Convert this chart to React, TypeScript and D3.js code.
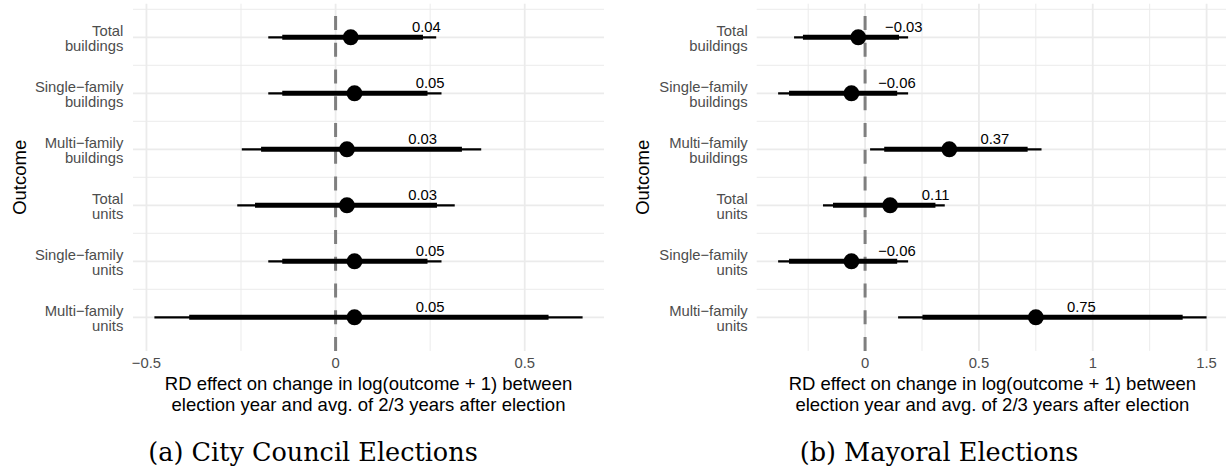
import React from "react";
import * as d3 from "d3";

// Outcomes, top to bottom
const outcomes = [
  "Total buildings",
  "Single−family buildings",
  "Multi−family buildings",
  "Total units",
  "Single−family units",
  "Multi−family units",
];

// City council elections: point estimate, 90% and 95% intervals
const councilEstimate = [0.04, 0.05, 0.03, 0.03, 0.05, 0.05];
const councilLo90 = [-0.141, -0.141, -0.197, -0.213, -0.141, -0.387];
const councilHi90 = [0.231, 0.243, 0.334, 0.268, 0.243, 0.563];
const councilLo95 = [-0.178, -0.178, -0.248, -0.26, -0.178, -0.479];
const councilHi95 = [0.266, 0.28, 0.385, 0.315, 0.28, 0.653];

// Mayoral elections
const mayorEstimate = [-0.03, -0.06, 0.37, 0.11, -0.06, 0.75];
const mayorLo90 = [-0.273, -0.334, 0.084, -0.141, -0.334, 0.252];
const mayorHi90 = [0.149, 0.141, 0.714, 0.309, 0.141, 1.395];
const mayorLo95 = [-0.312, -0.382, 0.022, -0.185, -0.382, 0.145];
const mayorHi95 = [0.189, 0.189, 0.775, 0.35, 0.189, 1.5];

const councilTicks = [-0.5, 0, 0.5];
const councilMinor = [-0.25, 0.25];
const mayorTicks = [0, 0.5, 1, 1.5];
const mayorMinor = [-0.25, 0.25, 0.75, 1.25];

const xTitle = [
  "RD effect on change in log(outcome + 1) between",
  "election year and avg. of 2/3 years after election",
];
const yTitle = "Outcome";
const captions = ["(a) City Council Elections", "(b) Mayoral Elections"];

const SANS = "'Liberation Sans', Arial, Helvetica, sans-serif";
const SERIF = "'DejaVu Serif', 'Liberation Serif', serif";
const GRID = "#EBEBEB";
const AXIS_TEXT = "#4D4D4D";

const minus = (s: string) => s.replace(/-/g, "−");
const fmtTick = (v: number) => minus(d3.format("")(v));
const fmtLabel = (v: number) => minus(v.toFixed(2));

type PanelProps = {
  left: number;
  right: number;
  yLabelX: number;
  yTitleX: number;
  captionX: number;
  caption: string;
  est: number[];
  lo90: number[];
  hi90: number[];
  lo95: number[];
  hi95: number[];
  ticks: number[];
  minor: number[];
};

const TOP = 3.7;
const BOTTOM = 350.9;

function Panel(p: PanelProps) {
  const lo = d3.min(p.lo95) as number;
  const hi = d3.max(p.hi95) as number;
  const pad = (hi - lo) * 0.05;
  const x = d3.scaleLinear().domain([lo - pad, hi + pad]).range([p.left, p.right]);
  const y = d3.scalePoint<string>().domain(outcomes).range([TOP, BOTTOM]).padding(0.6);
  const step = y.step();
  const cx = (p.left + p.right) / 2;
  const dash = d3.line()([
    [x(0), BOTTOM],
    [x(0), TOP],
  ]) as string;

  return (
    <g>
      {/* grid */}
      {outcomes.map((o) => (
        <line key={"hm" + o} x1={p.left} x2={p.right} y1={(y(o) as number) - step / 2} y2={(y(o) as number) - step / 2} stroke={GRID} strokeWidth={1} />
      ))}
      {p.minor.map((t) => (
        <line key={"vm" + t} x1={x(t)} x2={x(t)} y1={TOP} y2={BOTTOM} stroke={GRID} strokeWidth={1} />
      ))}
      {outcomes.map((o) => (
        <line key={"h" + o} x1={p.left} x2={p.right} y1={y(o)} y2={y(o)} stroke={GRID} strokeWidth={1.8} />
      ))}
      {p.ticks.map((t) => (
        <line key={"v" + t} x1={x(t)} x2={x(t)} y1={TOP} y2={BOTTOM} stroke={GRID} strokeWidth={1.8} />
      ))}

      {/* zero reference */}
      <path d={dash} stroke="#7F7F7F" strokeWidth={3} strokeDasharray="14 12.75" fill="none" />

      {/* intervals and estimates */}
      {outcomes.map((o, i) => (
        <g key={"m" + o}>
          <line x1={x(p.lo95[i])} x2={x(p.hi95[i])} y1={y(o)} y2={y(o)} stroke="#000" strokeWidth={2.2} />
          <line x1={x(p.lo90[i])} x2={x(p.hi90[i])} y1={y(o)} y2={y(o)} stroke="#000" strokeWidth={5} />
          <circle cx={x(p.est[i])} cy={y(o)} r={8} fill="#000" />
          <text x={x(p.est[i] + 0.2)} y={(y(o) as number) - 5} textAnchor="middle" fontSize={14.8} fontFamily={SANS} fill="#000">
            {fmtLabel(p.est[i])}
          </text>
        </g>
      ))}

      {/* y axis labels */}
      {outcomes.map((o) => {
        const k = o.lastIndexOf(" ");
        const lines = [o.slice(0, k), o.slice(k + 1)];
        return (
          <text key={"yl" + o} x={p.yLabelX} y={(y(o) as number) - 1.6} textAnchor="end" fontSize={14.8} fontFamily={SANS} fill={AXIS_TEXT}>
            {lines.map((l, j) => (
              <tspan key={j} x={p.yLabelX} dy={j === 0 ? 0 : 15}>
                {l}
              </tspan>
            ))}
          </text>
        );
      })}

      {/* x tick labels */}
      {p.ticks.map((t) => (
        <text key={"xt" + t} x={x(t)} y={368.3} textAnchor="middle" fontSize={14.8} fontFamily={SANS} fill={AXIS_TEXT}>
          {fmtTick(t)}
        </text>
      ))}

      {/* axis titles */}
      {xTitle.map((l, j) => (
        <text key={"xT" + j} x={cx} y={390 + j * 20.5} textAnchor="middle" fontSize={18.5} fontFamily={SANS} fill="#000">
          {l}
        </text>
      ))}
      <text
        transform={`translate(${p.yTitleX + 6.5},${(TOP + BOTTOM) / 2}) rotate(-90)`}
        textAnchor="middle"
        fontSize={18.5}
        fontFamily={SANS}
        fill="#000"
      >
        {yTitle}
      </text>

      {/* caption */}
      <text x={p.captionX} y={461} textAnchor="middle" fontSize={25.5} fontFamily={SERIF} fill="#000">
        {p.caption}
      </text>
    </g>
  );
}

export default function App() {
  return (
    <svg
      width={1226}
      height={469}
      viewBox="0 0 1226 469"
      style={{ position: "absolute", left: 0, top: 0, background: "#fff" }}
    >
      <rect width={1226} height={469} fill="#fff" />
      <Panel
        left={133}
        right={604}
        yLabelX={123.3}
        yTitleX={19}
        captionX={313}
        caption={captions[0]}
        est={councilEstimate}
        lo90={councilLo90}
        hi90={councilHi90}
        lo95={councilLo95}
        hi95={councilHi95}
        ticks={councilTicks}
        minor={councilMinor}
      />
      <Panel
        left={756.7}
        right={1228}
        yLabelX={747.7}
        yTitleX={642.5}
        captionX={939}
        caption={captions[1]}
        est={mayorEstimate}
        lo90={mayorLo90}
        hi90={mayorHi90}
        lo95={mayorLo95}
        hi95={mayorHi95}
        ticks={mayorTicks}
        minor={mayorMinor}
      />
    </svg>
  );
}
